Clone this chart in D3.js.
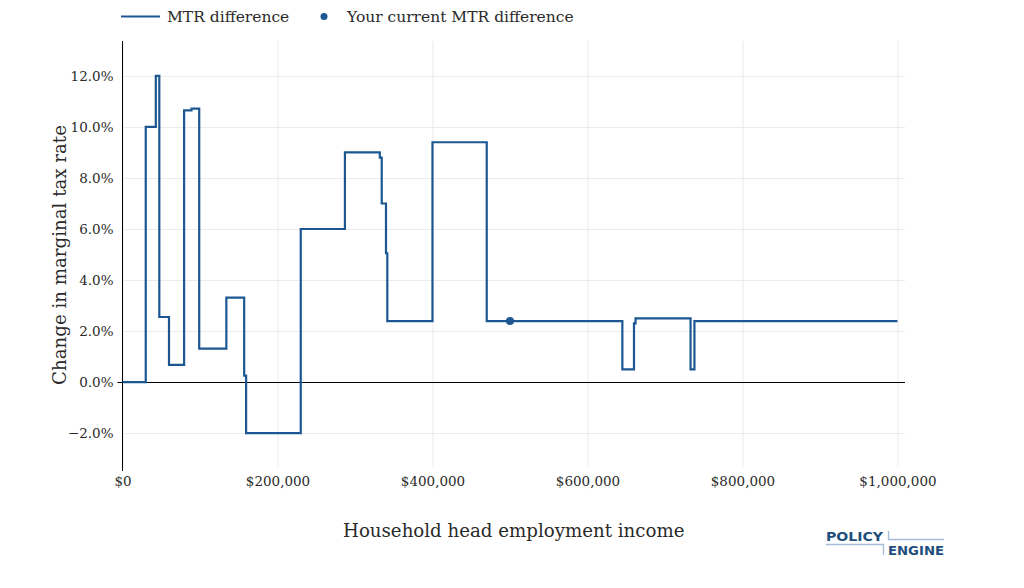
<!DOCTYPE html>
<html>
<head>
<meta charset="utf-8">
<script src="https://cdn.jsdelivr.net/npm/d3@7"></script>
<style>
  body { margin: 0; background: #fff; }
</style>
</head>
<body>
<div class="mtrChart"></div>
<script>
// step points: income where the MTR difference changes, and the new value (%)
const incomeBreaks = [0, 30000, 43000, 47500, 60000, 79500, 89000, 99000, 134000, 157000, 159500,
    230000, 287000, 332000, 334500, 340000, 341700, 400000, 470000, 645000, 660000, 662000,
    733000, 738000, 1000000];
const mtrDiff = [0, 10.0, 12.0, 2.55, 0.67, 10.65, 10.72, 1.31, 3.31, 0.25, -2.0,
    6.0, 9.0, 8.8, 7.0, 5.05, 2.39, 9.4, 2.39, 0.5, 2.3, 2.5,
    0.5, 2.39, 2.39];
const currentIncome = [500000];
const currentMtr = [2.39];
const xTicks = [0, 200000, 400000, 600000, 800000, 1000000];
const yTicks = [-2, 0, 2, 4, 6, 8, 10, 12];

createMtrChart();

function createMtrChart() {
    const width = 1024;
    const height = 588;
    const left = 122.5, right = 905, top = 41, bottom = 467;
    const lineColor = "#1c5791";
    const serif = "'DejaVu Serif', serif";
    const textColor = "#2a2a2a";

    const svg = d3.select(".mtrChart")
        .append("svg")
        .attr("width", width)
        .attr("height", height);

    const x = d3.scaleLinear().domain([0, 1009700]).range([left, right]);
    const y = d3.scaleLinear().domain([-3.33, 13.37]).range([bottom, top]);

    // gridlines
    svg.append("g")
        .attr("transform", `translate(0,${bottom})`)
        .call(d3.axisBottom(x).tickValues(xTicks).tickSize(-(bottom - top)).tickFormat(""))
        .call(g => g.select(".domain").remove())
        .call(g => g.selectAll("line").attr("stroke", "#ebebeb"));
    svg.append("g")
        .attr("transform", `translate(${left},0)`)
        .call(d3.axisLeft(y).tickValues(yTicks).tickSize(-(right - left)).tickFormat(""))
        .call(g => g.select(".domain").remove())
        .call(g => g.selectAll("line").attr("stroke", "#ebebeb"));

    // tick labels
    svg.append("g")
        .attr("transform", `translate(0,${bottom})`)
        .call(d3.axisBottom(x).tickValues(xTicks).tickSize(0).tickPadding(9)
            .tickFormat(d => "$" + d3.format(",")(d)))
        .call(g => g.select(".domain").remove())
        .call(g => g.selectAll("text")
            .style("font-family", serif).style("font-size", "13.5px").attr("fill", textColor));
    svg.append("g")
        .attr("transform", `translate(${left},0)`)
        .call(d3.axisLeft(y).tickValues(yTicks).tickSize(0).tickPadding(9)
            .tickFormat(d => d3.format(".1f")(d) + "%"))
        .call(g => g.select(".domain").remove())
        .call(g => g.selectAll("text")
            .style("font-family", serif).style("font-size", "13.5px").attr("fill", textColor));

    // zero line and axis line with small ticks at 0
    svg.append("line")
        .attr("x1", left).attr("x2", right)
        .attr("y1", Math.round(y(0)) + 0.5).attr("y2", Math.round(y(0)) + 0.5)
        .attr("stroke", "#000").attr("stroke-width", 1);
    svg.append("line")
        .attr("x1", 122.5).attr("x2", 122.5)
        .attr("y1", top).attr("y2", bottom + 4)
        .attr("stroke", "#000").attr("stroke-width", 1);
    svg.append("line")
        .attr("x1", left - 5).attr("x2", left)
        .attr("y1", Math.round(y(0)) + 0.5).attr("y2", Math.round(y(0)) + 0.5)
        .attr("stroke", "#000");

    // step line
    const points = incomeBreaks.map((d, i) => [d, mtrDiff[i]]);
    const line = d3.line()
        .x(d => x(d[0]))
        .y(d => y(d[1]))
        .curve(d3.curveStepAfter);
    svg.append("path")
        .datum(points)
        .attr("d", line)
        .attr("fill", "none")
        .attr("stroke", lineColor)
        .attr("stroke-width", 2.2);

    svg.selectAll(".current")
        .data(currentIncome)
        .enter()
        .append("circle")
        .attr("cx", d => x(d))
        .attr("cy", (d, i) => y(currentMtr[i]))
        .attr("r", 4)
        .attr("fill", lineColor);

    // axis titles
    svg.append("text")
        .attr("x", (left + right) / 2)
        .attr("y", 537)
        .attr("text-anchor", "middle")
        .style("font-family", serif)
        .style("font-size", "18.2px")
        .attr("fill", textColor)
        .text("Household head employment income");
    svg.append("text")
        .attr("transform", `translate(66,255) rotate(-90)`)
        .attr("text-anchor", "middle")
        .style("font-family", serif)
        .style("font-size", "18.2px")
        .attr("fill", textColor)
        .text("Change in marginal tax rate");

    // legend
    const legend = svg.append("g");
    legend.append("line")
        .attr("x1", 121).attr("x2", 160).attr("y1", 16.5).attr("y2", 16.5)
        .attr("stroke", lineColor).attr("stroke-width", 2.2);
    legend.append("text")
        .attr("x", 167).attr("y", 22)
        .style("font-family", serif)
        .style("font-size", "15.5px")
        .attr("fill", textColor)
        .text("MTR difference");
    legend.append("circle")
        .attr("cx", 324).attr("cy", 16.5).attr("r", 3.5)
        .attr("fill", lineColor);
    legend.append("text")
        .attr("x", 347).attr("y", 22)
        .style("font-family", serif)
        .style("font-size", "15.5px")
        .attr("fill", textColor)
        .text("Your current MTR difference");

    // logo
    const logo = svg.append("g");
    const logoBlue = "#1d4e7c";
    const logoLine = "#a5bcd8";
    logo.append("text")
        .attr("x", 826).attr("y", 541)
        .attr("textLength", 57)
        .attr("lengthAdjust", "spacingAndGlyphs")
        .style("font-family", "'DejaVu Sans', sans-serif")
        .style("font-size", "12px")
        .style("font-weight", "bold")
        .attr("fill", logoBlue)
        .text("POLICY");
    logo.append("text")
        .attr("x", 888).attr("y", 555)
        .attr("textLength", 56)
        .attr("lengthAdjust", "spacingAndGlyphs")
        .style("font-family", "'DejaVu Sans', sans-serif")
        .style("font-size", "12px")
        .style("font-weight", "bold")
        .attr("fill", logoBlue)
        .text("ENGINE");
    logo.append("path")
        .attr("d", "M826,544.5 H883.5 V555 M888.5,531 V539.5 H944")
        .attr("fill", "none")
        .attr("stroke", logoLine)
        .attr("stroke-width", 1.3);
}
</script>
</body>
</html>
